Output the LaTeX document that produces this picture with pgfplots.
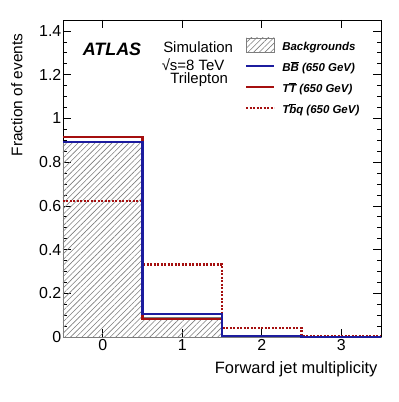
\documentclass[border=0pt]{standalone}
\usepackage{fontspec}
\setmainfont{Liberation Sans}
\usepackage{pgfplots}
\pgfplotsset{compat=1.18}
\usetikzlibrary{patterns.meta}
\definecolor{sigblue}{RGB}{28,28,158}
\definecolor{sigred}{RGB}{165,15,15}
\definecolor{hatchgray}{RGB}{125,125,125}
\newcommand\olb[1]{$\overline{\mbox{#1}}$}
\pgfplotsset{
  short line legend/.style={legend image code/.code={\draw[##1] (0bp,3bp) -- (28bp,3bp);}},
  hatch box legend/.style={legend image code/.code={\draw[##1] (0bp,-4bp) rectangle (28bp,10bp);}},
  bkg hatch/.style={pattern={Lines[angle=45,distance=4bp,line width=0.6bp]}, pattern color=hatchgray, draw=hatchgray},
}

\begin{document}
\begin{tikzpicture}[x=1bp,y=1bp]
\path[use as bounding box] (-63,-65) rectangle (336,337);
\begin{axis}[
  scale only axis, width=318bp, height=317bp,
  xmin=-0.5, xmax=3.5, ymin=0, ymax=1.45,
  xtick={0,1,2,3}, ytick={0,0.2,...,1.4}, minor y tick num=3,
  tick align=inside, major tick length=8bp, minor tick length=4bp,
  every tick/.style={black, line width=0.6bp},
  axis line style={line width=0.8bp},
  /pgf/number format/assume math mode=true,
  tick label style={font=\fontsize{16}{19}\selectfont},
  yticklabel style={inner sep=1.5bp},
  xticklabel style={inner sep=2.5bp},
  xlabel={Forward jet multiplicity}, ylabel={Fraction of events},
  xlabel style={font=\fontsize{16.5}{19}\selectfont, at={(axis description cs:1,-0.101)}, anchor=east},
  ylabel style={font=\fontsize{15.5}{18}\selectfont, at={(axis description cs:-0.145,0.968)}, anchor=east},
  legend style={at={(axis description cs:0.572,0.945)}, anchor=north west,
    draw=none, fill=none, inner sep=0pt, row sep=9bp, column sep=7bp,
    font=\fontsize{11.5}{13}\selectfont\bfseries\itshape,
    nodes={inner sep=0bp, text height=9bp, text depth=3bp}},
  legend cell align=left,
  clip=false,
]
% legend
\addlegendimage{bkg hatch, line width=0.6bp, hatch box legend}
\addlegendentry{Backgrounds}
\addlegendimage{sigblue, line width=2.2bp, short line legend}
\addlegendentry{B\olb{B} (650 GeV)}
\addlegendimage{sigred, line width=2.2bp, short line legend}
\addlegendentry{T\olb{T} (650 GeV)}
\addlegendimage{sigred, line width=2.2bp, dash pattern=on 2bp off 1.5bp, short line legend}
\addlegendentry{T\olb{b}q (650 GeV)}

% backgrounds
\addplot[forget plot, const plot, bkg hatch, line width=0.5bp]
  coordinates {(-0.5,0.89) (0.5,0.09) (1.5,0.006) (2.5,0.001) (3.5,0.001)} \closedcycle;
% Tbq
\addplot[forget plot, const plot, sigred, line width=2.2bp, dash pattern=on 2bp off 1.5bp]
  coordinates {(-0.5,0.622) (0.5,0.332) (1.5,0.041) (2.5,0.005) (3.5,0.005)};
% TT
\addplot[forget plot, const plot, sigred, line width=2.2bp]
  coordinates {(-0.5,0.915) (0.5,0.084) (1.5,0.004) (2.5,0.0) (3.5,0.0)};
% BB
\addplot[forget plot, const plot, sigblue, line width=2.2bp]
  coordinates {(-0.5,0.893) (0.5,0.105) (1.5,0.005) (2.5,0.0) (3.5,0.0)};

\node[font=\fontsize{18}{20}\selectfont\bfseries\itshape] at (rel axis cs:0.154,0.907) {ATLAS};
\node[font=\fontsize{15}{17}\selectfont] at (rel axis cs:0.425,0.913) {Simulation};
\node[font=\fontsize{15}{17}\selectfont] at (rel axis cs:0.409,0.860) {√s=8 TeV};
\node[font=\fontsize{15}{17}\selectfont] at (rel axis cs:0.428,0.811) {Trilepton};
\end{axis}
\end{tikzpicture}
\end{document}
